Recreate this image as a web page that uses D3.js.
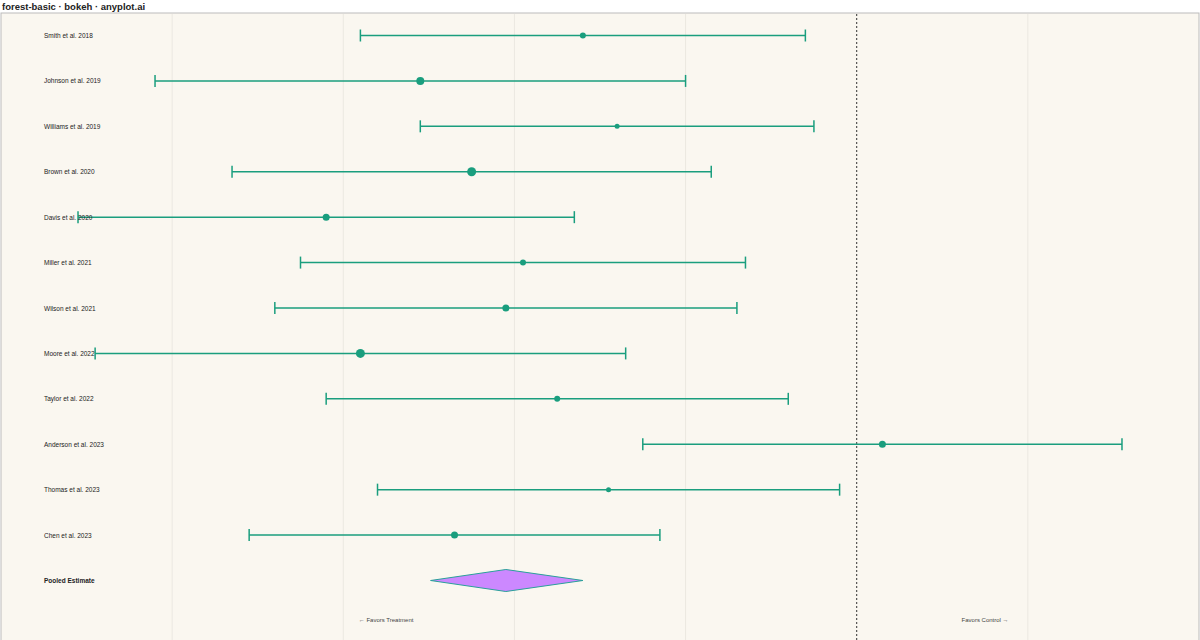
<!DOCTYPE html>
<html><head><meta charset="utf-8">
<script src="https://cdn.jsdelivr.net/npm/d3@7"></script>
<style>body{margin:0;background:#fff;font-family:"Liberation Sans",Arial,sans-serif}</style>
</head><body><svg id="c" width="1200" height="640"></svg>
<script>
var studies = ["Smith et al. 2018","Johnson et al. 2019","Williams et al. 2019","Brown et al. 2020","Davis et al. 2020","Miller et al. 2021","Wilson et al. 2021","Moore et al. 2022","Taylor et al. 2022","Anderson et al. 2023","Thomas et al. 2023","Chen et al. 2023"];
var estimate = [-1.60,-2.55,-1.40,-2.25,-3.10,-1.95,-2.05,-2.90,-1.75,0.15,-1.45,-2.35];
var lower = [-2.90,-4.10,-2.55,-3.65,-4.55,-3.25,-3.40,-4.45,-3.10,-1.25,-2.80,-3.55];
var upper = [-0.30,-1.00,-0.25,-0.85,-1.65,-0.65,-0.70,-1.35,-0.40,1.55,-0.10,-1.15];
var weight = [3,4,2.5,4.5,3.5,3,3.5,4.5,3,3.5,2.5,3.5];
var pooled = {lo:-2.49, est:-2.05, hi:-1.60};
var gridTicks = [-4,-3,-2,-1,1];

var svg = d3.select("#c");
var col = "#1a9e7e";
var x = d3.scaleLinear().domain([-5,2]).range([1,1199]);
var y = d3.scaleLinear().domain([0,12]).range([35.5,580.5]);

svg.append("text").attr("x",2).attr("y",10).attr("font-size",9.5).attr("font-weight","bold").attr("fill","#222").text("forest-basic · bokeh · anyplot.ai");
svg.append("rect").attr("x",1).attr("y",13).attr("width",1198).attr("height",630).attr("fill","#faf7f0").attr("stroke","#bbb");

svg.selectAll("line.grid").data(gridTicks).enter().append("line")
  .attr("x1",d=>x(d)).attr("x2",d=>x(d)).attr("y1",14).attr("y2",640)
  .attr("stroke","#ebe8e1").attr("stroke-width",1);
svg.append("line").attr("x1",x(0)).attr("x2",x(0)).attr("y1",14).attr("y2",640)
  .attr("stroke","#333").attr("stroke-dasharray","2,2");

var g = svg.selectAll("g.row").data(studies).enter().append("g");
g.append("line").attr("x1",(d,i)=>x(lower[i])).attr("x2",(d,i)=>x(upper[i])).attr("y1",(d,i)=>y(i)).attr("y2",(d,i)=>y(i)).attr("stroke",col).attr("stroke-width",1.5);
g.append("line").attr("x1",(d,i)=>x(lower[i])).attr("x2",(d,i)=>x(lower[i])).attr("y1",(d,i)=>y(i)-6).attr("y2",(d,i)=>y(i)+6).attr("stroke",col).attr("stroke-width",1.5);
g.append("line").attr("x1",(d,i)=>x(upper[i])).attr("x2",(d,i)=>x(upper[i])).attr("y1",(d,i)=>y(i)-6).attr("y2",(d,i)=>y(i)+6).attr("stroke",col).attr("stroke-width",1.5);
g.append("circle").attr("cx",(d,i)=>x(estimate[i])).attr("cy",(d,i)=>y(i)).attr("r",(d,i)=>weight[i]).attr("fill",col);
g.append("text").attr("x",44).attr("y",(d,i)=>y(i)+2.5).attr("font-size",6.5).attr("fill","#222").text(d=>d);

var py = y(12);
svg.append("path").attr("d","M"+x(pooled.lo)+","+py+"L"+x(pooled.est)+","+(py-11)+"L"+x(pooled.hi)+","+py+"L"+x(pooled.est)+","+(py+11)+"Z")
  .attr("fill","#cc88ff").attr("stroke","#2aa09a").attr("stroke-width",1);
svg.append("text").attr("x",44).attr("y",py+2.5).attr("font-size",6.5).attr("font-weight","bold").attr("fill","#222").text("Pooled Estimate");

svg.append("text").attr("x",x(-2.75)).attr("y",622).attr("font-size",6).attr("text-anchor","middle").attr("fill","#444").text("← Favors Treatment");
svg.append("text").attr("x",x(0.75)).attr("y",622).attr("font-size",6).attr("text-anchor","middle").attr("fill","#444").text("Favors Control →");
</script></body></html>
